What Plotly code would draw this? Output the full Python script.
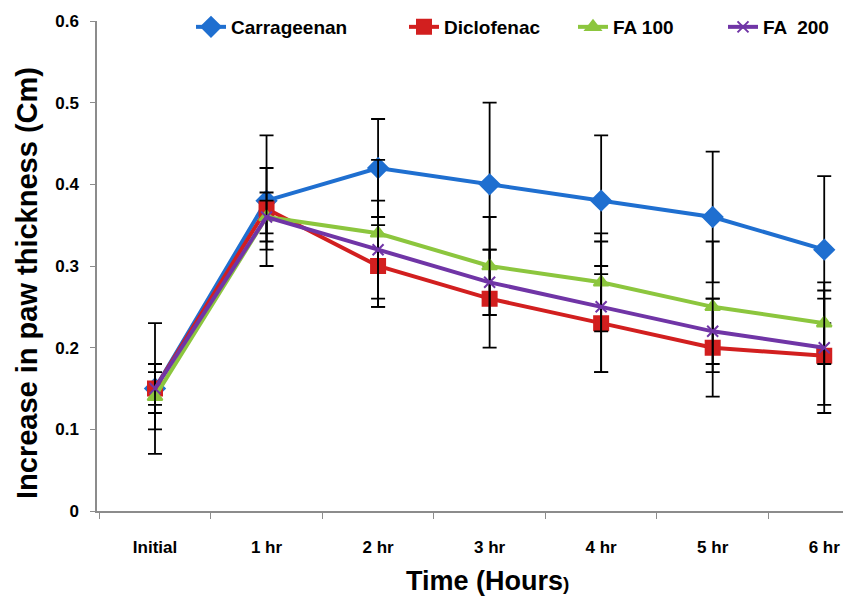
import plotly.graph_objects as go

categories = ["Initial", "1 hr", "2 hr", "3 hr", "4 hr", "5 hr", "6 hr"]

carrageenan = [0.15, 0.38, 0.42, 0.40, 0.38, 0.36, 0.32]
carrageenan_err = [0.08, 0.08, 0.06, 0.10, 0.08, 0.08, 0.09]

diclofenac = [0.15, 0.37, 0.30, 0.26, 0.23, 0.20, 0.19]
diclofenac_err = [0.02, 0.05, 0.05, 0.06, 0.06, 0.06, 0.07]

fa100 = [0.14, 0.36, 0.34, 0.30, 0.28, 0.25, 0.23]
fa100_err = [0.04, 0.03, 0.09, 0.06, 0.06, 0.08, 0.05]

fa200 = [0.15, 0.36, 0.32, 0.28, 0.25, 0.22, 0.20]
fa200_err = [0.03, 0.02, 0.06, 0.04, 0.08, 0.04, 0.07]

y_ticks = [0, 0.1, 0.2, 0.3, 0.4, 0.5, 0.6]
y_tick_labels = ["0", "0.1", "0.2", "0.3", "0.4", "0.5", "0.6"]

FONT = "Liberation Sans"

series = [
    ("Carrageenan", carrageenan, carrageenan_err, "#1f6fd0", "diamond", 15, "legend"),
    ("Diclofenac", diclofenac, diclofenac_err, "#d21f1f", "square", 14, "legend2"),
    ("FA 100", fa100, fa100_err, "#8cc63e", "triangle-up", 13, "legend3"),
    ("FA  200", fa200, fa200_err, "#7035a6", "x-thin", 11, "legend4"),
]

fig = go.Figure()
for name, vals, errs, color, sym, size, leg in series:
    fig.add_trace(go.Scatter(
        x=categories, y=vals, name=name, mode="lines+markers",
        line=dict(color=color, width=4),
        marker=dict(symbol=sym, size=size, color=color,
                    line=dict(color=color, width=2)),
        error_y=dict(type="data", array=errs, visible=True,
                     color="black", thickness=1.8, width=7),
        legend=leg,
    ))

# page body has an 8px margin; figure sized to fit the window
OFF = 8
W, H = 851 - OFF, 601 - OFF
L, R, T, B = 97 - OFF, 0, 21 - OFF, H - (511 - OFF)
pw = W - L - R
ph = H - T - B

def px(x):
    return (x - OFF - L) / pw

def py(y):
    return (H - B - (y - OFF)) / ph

leg_font = dict(family=FONT, size=19, color="black", weight="bold")
legend_common = dict(orientation="h", yanchor="middle", xanchor="left",
                     bgcolor="rgba(0,0,0,0)", font=leg_font,
                     itemwidth=30, tracegroupgap=0)

fig.update_layout(
    width=W, height=H,
    margin=dict(l=L, r=R, t=T, b=B, autoexpand=False),
    paper_bgcolor="white", plot_bgcolor="white",
    showlegend=True,
    legend=dict(x=px(191), y=py(27), **legend_common),
    legend2=dict(x=px(404), y=py(27), **legend_common),
    legend3=dict(x=px(573), y=py(27), **legend_common),
    legend4=dict(x=px(723), y=py(27), **legend_common),
    xaxis=dict(
        type="category", range=[-0.52, 6.24], automargin=False,
        showline=True, linecolor="#8c8c8c", linewidth=1.5,
        ticks="outside", ticklen=6, tickcolor="#8c8c8c", tickson="boundaries",
        showgrid=False, zeroline=False,
        tickfont=dict(family=FONT, size=17, color="black", weight="bold"),
        ticklabelstandoff=20,
    ),
    yaxis=dict(
        range=[0, 0.6], tickvals=y_ticks, ticktext=y_tick_labels, automargin=False,
        showline=True, linecolor="#8c8c8c", linewidth=1.5,
        ticks="outside", ticklen=5, tickcolor="#8c8c8c",
        showgrid=False, zeroline=False,
        tickfont=dict(family=FONT, size=17, color="black", weight="bold"),
        ticklabelstandoff=8,
    ),
    annotations=[
        dict(text="Increase in paw thickness (Cm)", textangle=-90,
             x=px(27), y=py(283), xref="paper", yref="paper",
             xanchor="center", yanchor="middle", showarrow=False,
             font=dict(family=FONT, size=29, color="black", weight="bold")),
        dict(text="Time (Hours<span style='font-size:19px'>)</span>",
             x=px(487), y=py(581), xref="paper", yref="paper",
             xanchor="center", yanchor="middle", showarrow=False,
             font=dict(family=FONT, size=27, color="black", weight="bold")),
    ],
)

fig.write_html("out.html")
